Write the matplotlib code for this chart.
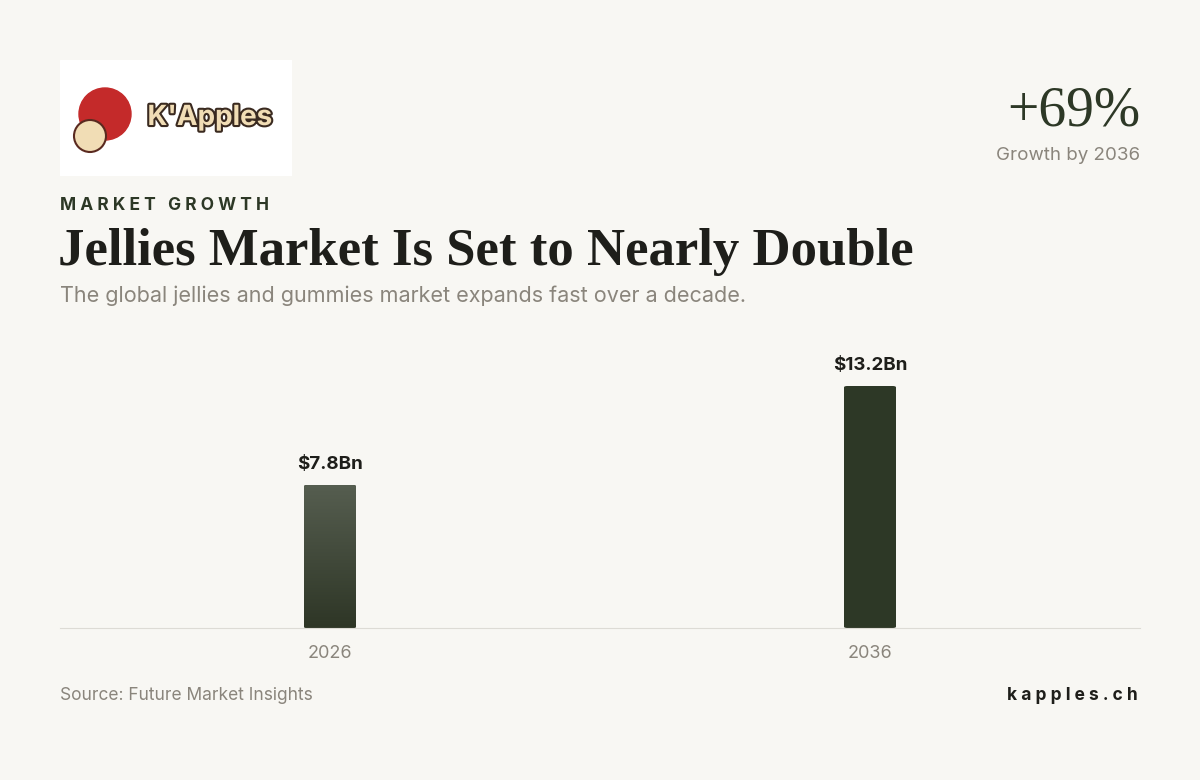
import numpy as np
import matplotlib
matplotlib.use("Agg")
import matplotlib.pyplot as plt
import matplotlib.patheffects as pe
from matplotlib.colors import LinearSegmentedColormap
from matplotlib.patches import FancyBboxPatch, Rectangle, Circle

years = ["2026", "2036"]
values = [7.8, 13.2]
labels = ["$7.8Bn", "$13.2Bn"]

bg = "#f8f7f3"
dark = "#2d3826"
grey = "#8a857c"

plt.rcParams['font.family'] = ['Inter', 'DejaVu Sans']
fig = plt.figure(figsize=(12, 7.8), dpi=100, facecolor=bg)

# header texts
fig.text(60/1200, 1-205/780, "M A R K E T   G R O W T H", fontsize=12.5, fontweight="bold",
         color=dark, va="center", ha="left")
fig.text(58/1200, 1-252/780, "Jellies Market Is Set to Nearly Double", fontsize=38,
         fontweight="bold", family=["Liberation Serif", "DejaVu Serif"], color="#1e1e1a",
         va="center", ha="left")
fig.text(60/1200, 1-296/780, "The global jellies and gummies market expands fast over a decade.",
         fontsize=15.5, color=grey, va="center", ha="left")
fig.text(1140/1200, 1-112/780, "+69%", fontsize=40, family=["Liberation Serif", "DejaVu Serif"],
         color=dark, va="center", ha="right")
fig.text(1140/1200, 1-155/780, "Growth by 2036", fontsize=13.5, color=grey, va="center", ha="right")
fig.text(60/1200, 1-695/780, "Source: Future Market Insights", fontsize=12.5, color=grey,
         va="center", ha="left")
fig.text(1138/1200, 1-695/780, "k a p p l e s . c h", fontsize=12.5, fontweight="bold",
         color="#1e1e1a", va="center", ha="right")

# logo
lax = fig.add_axes([60/1200, 1-176/780, 232/1200, 116/780])
lax.set_xlim(0, 232); lax.set_ylim(0, 116); lax.axis("off")
lax.add_patch(Rectangle((0, 0), 232, 116, color="white"))
lax.add_patch(Circle((45, 62), 26, color="#c42a2a"))
lax.add_patch(Circle((30, 40), 16, color="#f1ddb5", ec="#5a2a20", lw=1.5))
lax.text(150, 58, "K'Apples", fontsize=20, color="#f1ddb5", fontweight="bold",
         ha="center", va="center",
         path_effects=[pe.withStroke(linewidth=3, foreground="#3a2a20")])

# chart
ax = fig.add_axes([60/1200, 1-628/780, 1080/1200, 288/780])
ax.set_facecolor(bg)
ymax = 288 * 13.2 / 242
ax.set_xlim(-0.5, 1.5)
ax.set_ylim(0, ymax)
w = 52 / 540
for i, (v, lab) in enumerate(zip(values, labels)):
    p = FancyBboxPatch((i - w/2, 0), w, v, boxstyle="round,pad=0,rounding_size=0.006",
                       mutation_aspect=ymax/2*1.5, fc=dark, ec="none")
    ax.add_patch(p)
    if i == 0:
        grad = np.linspace(0, 1, 256).reshape(-1, 1)
        cmap = LinearSegmentedColormap.from_list("g", ["#2e3626", "#565e50"])
        im = ax.imshow(grad, extent=(i - w/2, i + w/2, 0, v), origin="lower",
                       cmap=cmap, aspect="auto", zorder=2)
        im.set_clip_path(p)
    ax.text(i, v + 0.65, lab, ha="center", va="bottom", fontsize=13.5,
            fontweight="bold", color="#1e1e1a")
ax.set_xticks([0, 1])
ax.set_xticklabels(years, fontsize=13, color=grey)
ax.tick_params(length=0, pad=12)
ax.set_yticks([])
for s in ["top", "right", "left"]:
    ax.spines[s].set_visible(False)
ax.spines["bottom"].set_color("#dddbd5")

fig.savefig("out.png", dpi=100, facecolor=bg)
